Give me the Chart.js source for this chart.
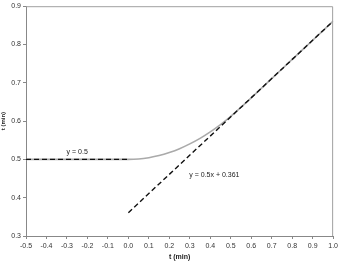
<!DOCTYPE html>
<html>
<head>
<meta charset="utf-8">
<script src="https://cdn.jsdelivr.net/npm/chart.js@4"></script>
<style>
html,body{margin:0;padding:0;background:#fff;}
#wrap{width:341px;height:266px;}
</style>
</head>
<body>
<div id="wrap"><canvas id="c" width="341" height="266"></canvas></div>
<script>
// Response curve (gray)
const curveX = [-0.5, -0.25, 0.0, 0.05, 0.1, 0.15, 0.2, 0.25, 0.3, 0.35, 0.4, 0.45, 0.5, 0.556, 0.7, 0.8, 0.9, 1.0];
const curveY = [0.5, 0.5, 0.5, 0.501, 0.5045, 0.510, 0.518, 0.528, 0.5405, 0.555, 0.572, 0.591, 0.6125, 0.639, 0.711, 0.761, 0.811, 0.861];
// Dashed line y = 0.5
const flatX = [-0.5, 0.0];
const flatY = [0.5, 0.5];
// Dashed asymptote y = 0.5x + 0.361
const asymX = [0.0, 1.0];
const asymY = [0.361, 0.861];
// Axis ticks
const xTicks = [-0.5, -0.4, -0.3, -0.2, -0.1, 0.0, 0.1, 0.2, 0.3, 0.4, 0.5, 0.6, 0.7, 0.8, 0.9, 1.0];
const yTicks = [0.3, 0.4, 0.5, 0.6, 0.7, 0.8, 0.9];
// Annotations
const labels = [
  {text: 'y = 0.5', x: -0.25, y: 0.518},
  {text: 'y = 0.5x + 0.361', x: 0.42, y: 0.459}
];

const pts = (xs, ys) => xs.map((x, i) => ({x: x, y: ys[i]}));

const frame = {
  id: 'frame',
  afterDraw(chart) {
    const {ctx, chartArea: a, scales} = chart;
    ctx.save();
    ctx.strokeStyle = '#a0a0a0';
    ctx.lineWidth = 1;
    ctx.beginPath();
    ctx.moveTo(a.left, a.top + 0.5);
    ctx.lineTo(a.right - 0.5, a.top + 0.5);
    ctx.lineTo(a.right - 0.5, a.bottom);
    ctx.stroke();
    ctx.fillStyle = '#222';
    ctx.font = '7px "Liberation Sans", Arial, sans-serif';
    ctx.textAlign = 'center';
    ctx.textBaseline = 'middle';
    labels.forEach(l => {
      ctx.fillText(l.text, scales.x.getPixelForValue(l.x), scales.y.getPixelForValue(l.y));
    });
    ctx.restore();
  }
};

new Chart(document.getElementById('c'), {
  type: 'scatter',
  data: {
    datasets: [
      {data: pts(flatX, flatY), showLine: true, borderColor: '#111', borderWidth: 1.4, borderDash: [5, 3], pointRadius: 0},
      {data: pts(asymX, asymY), showLine: true, borderColor: '#111', borderWidth: 1.4, borderDash: [5, 3], pointRadius: 0},
      {data: pts(curveX, curveY), showLine: true, borderColor: '#aaaaaa', borderWidth: 1.6, pointRadius: 0, cubicInterpolationMode: 'monotone'}
    ]
  },
  options: {
    responsive: false,
    animation: false,
    events: [],
    layout: {padding: {left: 0, right: 5, top: 5, bottom: 5}},
    plugins: {legend: {display: false}, tooltip: {enabled: false}},
    scales: {
      x: {
        type: 'linear', min: -0.5, max: 1.0,
        afterBuildTicks: s => { s.ticks = xTicks.map(v => ({value: v})); },
        afterFit: s => { s.height = 25; },
        ticks: {
          font: {size: 7, family: '"Liberation Sans", Arial, sans-serif'}, color: '#333',
          padding: 3, maxRotation: 0, autoSkip: false,
          callback: v => Number(v).toFixed(1)
        },
        grid: {drawOnChartArea: false, tickLength: 3, color: '#888'},
        border: {color: '#888', width: 1},
        title: {display: true, text: 't (min)', color: '#222', padding: {top: 1, bottom: 0},
          font: {size: 7, weight: 'bold', family: '"Liberation Sans", Arial, sans-serif'}}
      },
      y: {
        type: 'linear', min: 0.3, max: 0.9,
        afterBuildTicks: s => { s.ticks = yTicks.map(v => ({value: v})); },
        afterFit: s => { s.width = 26; },
        ticks: {
          font: {size: 7, family: '"Liberation Sans", Arial, sans-serif'}, color: '#333',
          padding: 2, autoSkip: false,
          callback: v => Number(v).toFixed(1)
        },
        grid: {drawOnChartArea: false, tickLength: 3, color: '#888'},
        border: {color: '#888', width: 1},
        title: {display: true, text: 't (min)', color: '#222', padding: 0,
          font: {size: 6, weight: 'bold', family: '"Liberation Sans", Arial, sans-serif'}}
      }
    }
  },
  plugins: [frame]
});
</script>
</body>
</html>
